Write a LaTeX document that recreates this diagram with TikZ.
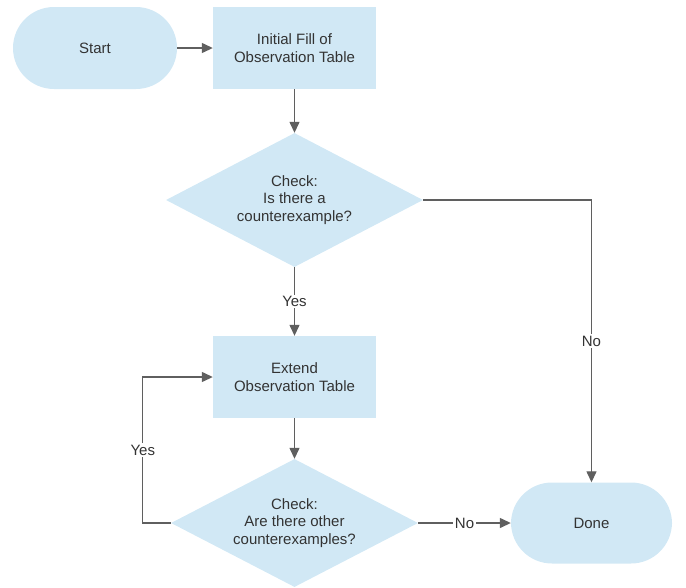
\documentclass[tikz,border=0pt]{standalone}
\usepackage{fontspec}
\setmainfont{Liberation Sans}
\usetikzlibrary{calc,shapes.geometric,arrows.meta}
\definecolor{boxblue}{RGB}{209,232,245}
\definecolor{linegray}{RGB}{95,95,95}
\definecolor{textgray}{RGB}{51,51,51}

\begin{document}
\begin{tikzpicture}[x=1pt,y=-1pt,font=\fontsize{15}{17.5}\selectfont,text=textgray,terminal/.style={fill=boxblue,rounded corners=41pt,minimum width=164pt,minimum height=82pt},process/.style={fill=boxblue,minimum width=163pt,minimum height=82pt,align=center},decision/.style={fill=boxblue,diamond,aspect=2,inner sep=0pt,align=center},arrow/.style={-{Triangle[length=11pt,width=10pt]},linegray,line width=1.3pt},answer/.style={fill=white,text=textgray,inner sep=1.5pt}]
  \useasboundingbox (0,0) rectangle (686,587);
  \node[terminal] (start) at (95,48) {Start};
  \node[process] (fill) at ($ (start) + (199.5,0) $) {Initial Fill of\\Observation Table};
  \node[decision,minimum width=257pt,minimum height=134pt] (check) at ($ (fill) + (0,152) $) {Check:\\Is there a\\counterexample?};
  \node[process] (extend) at ($ (check) + (0,177) $) {Extend\\Observation Table};
  \node[decision,minimum width=247pt,minimum height=128pt] (recheck) at ($ (extend) + (0,146) $) {Check:\\Are there other\\counterexamples?};
  \node[terminal,minimum width=161pt,minimum height=81pt] (done) at ($ (recheck) + (297,0) $) {Done};
  \draw[arrow] (start) -- (fill);
  \draw[arrow] (fill) -- (check);
  \draw[arrow] (check) -- node[answer] {Yes} (extend);
  \draw[arrow] (extend) -- (recheck);
  \draw[arrow] (recheck.west) -- ++(-28,0) |- node[answer,pos=0.25] {Yes} (extend.west);
  \draw[arrow] (check.east) -| node[answer,pos=0.75] {No} (done.north);
  \draw[arrow] (recheck) -- node[answer] {No} (done);
\end{tikzpicture}
\end{document}
